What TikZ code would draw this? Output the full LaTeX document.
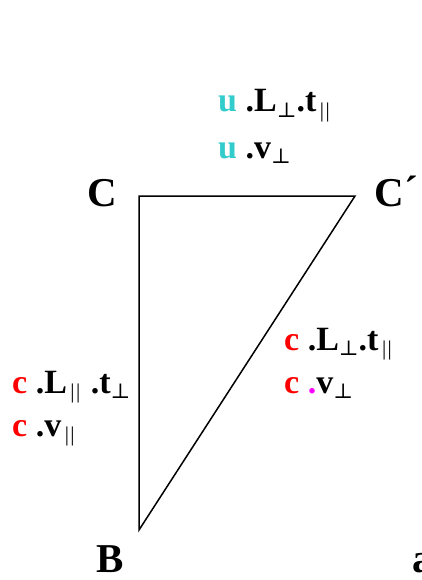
\documentclass[tikz,border=0pt]{standalone}
\usepackage{fontspec}
\setmainfont{Liberation Serif}
\newfontfamily\perpfont{DejaVu Serif}
\usetikzlibrary{positioning}
\definecolor{TermCyan}{HTML}{33CCCC}
\definecolor{TermRed}{HTML}{FF0000}
\definecolor{DotMagenta}{HTML}{FF00FF}
\newcommand\lowsub[1]{\raisebox{-0.35ex}{\fontsize{21}{21}\selectfont #1}}
\newcommand\perpsub{\lowsub{\perpfont\mdseries ⊥}}
\newcommand\parsub{\lowsub{\mdseries\,|\kern1.5pt|}}
\tikzset{
  vtxlabel/.style={font=\fontsize{41}{41}\selectfont\bfseries, anchor=base west, inner sep=0},
  termlabel/.style={font=\fontsize{34}{34}\selectfont\bfseries, anchor=base west, inner sep=0},
  side/.style={line width=1.5pt}
}

\begin{document}
\begin{tikzpicture}[x=1pt, y=-1pt]
    \useasboundingbox (0,0) rectangle (422,580);
    \coordinate (C) at (139,196);
    \coordinate (Cp) at (355,196);
    \coordinate (B) at (139,530);

    \draw[side] (C) -- (Cp) -- (B) -- cycle;

    \node[vtxlabel] (lblC) at (87,206) {C};
    \node[vtxlabel] (lblCp) at (374,206) {C\kern1pt\raisebox{0.1ex}{´}};
    \node[vtxlabel] (lblB) at (96,572) {B};
    \node[vtxlabel] (lbla) at (412,572) {a};

    \node[termlabel] (topL) at (218,112) {\textcolor{TermCyan}{u} .L\perpsub.t\parsub};
    \node[termlabel] (topv) at (218,158) {\textcolor{TermCyan}{u} .v\perpsub};
    \node[termlabel] (rightL) at (284,350) {\textcolor{TermRed}{c} .L\perpsub.t\parsub};
    \node[termlabel] (rightv) at (284,393) {\textcolor{TermRed}{c} \textcolor{DotMagenta}{.}v\perpsub};
    \node[termlabel] (leftL) at (12,393) {\textcolor{TermRed}{c} .L\parsub\kern2pt\ .t\perpsub};
    \node[termlabel] (leftv) at (12,436) {\textcolor{TermRed}{c} .v\parsub};
  \end{tikzpicture}
\end{document}
